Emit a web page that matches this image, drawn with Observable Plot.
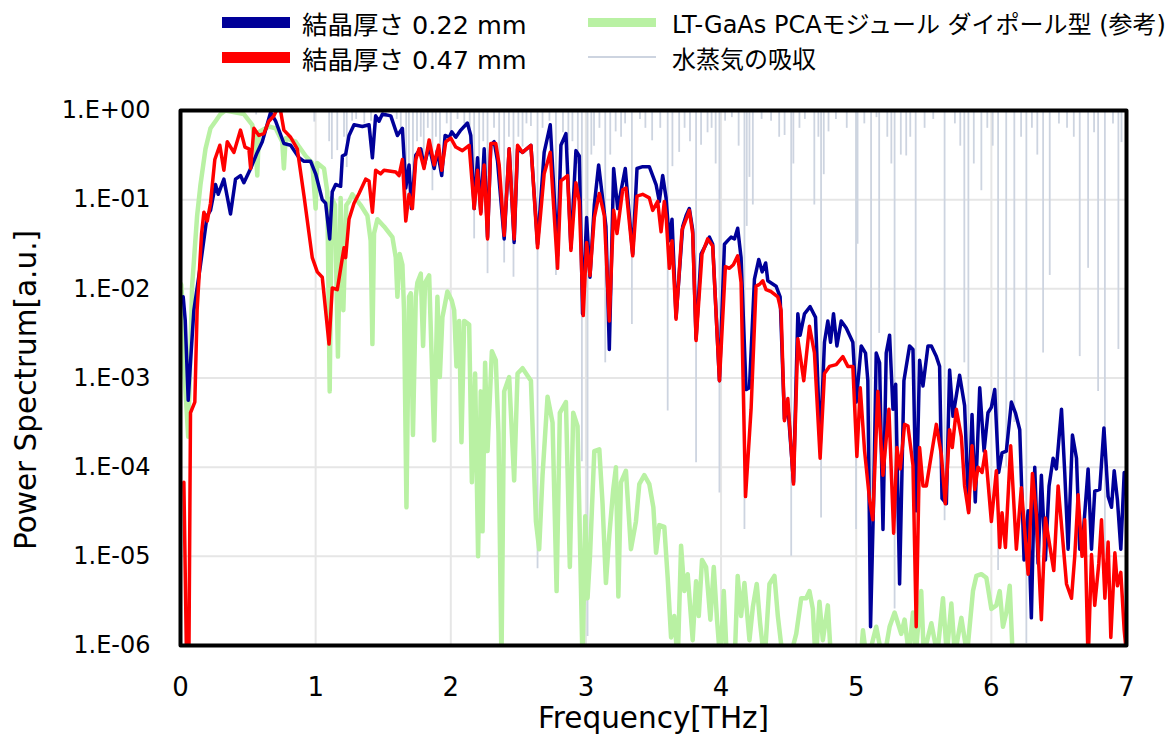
<!DOCTYPE html>
<html>
<head>
<meta charset="utf-8">
<script src="https://cdn.jsdelivr.net/npm/d3@7"></script>
<script src="https://cdn.jsdelivr.net/npm/@observablehq/plot@0.6"></script>
<style>
  html, body { margin: 0; padding: 0; background: #fff; }
  body { width: 1172px; height: 739px; overflow: hidden; font-family: "DejaVu Sans", "Noto Sans CJK JP", sans-serif; }
  #legend { position: relative; width: 1172px; height: 80px; }
  .item { position: absolute; height: 36px; display: flex; align-items: center; color: #000; white-space: nowrap; }
  .sw { display: inline-block; width: 68px; }
</style>
</head>
<body>
<div id="legend"></div>
<div id="chart"></div>
<script>
// ---- axis ticks ----
const xTicks = [0, 1, 2, 3, 4, 5, 6, 7];
const xTickLabels = ["0", "1", "2", "3", "4", "5", "6", "7"];
const yTicks = [1, 1e-1, 1e-2, 1e-3, 1e-4, 1e-5, 1e-6];
const yTickLabels = ["1.E+00", "1.E-01", "1.E-02", "1.E-03", "1.E-04", "1.E-05", "1.E-06"];

// ---- series names ----
const seriesNames = ["結晶厚さ 0.22 mm", "結晶厚さ 0.47 mm", "LT-GaAs PCAモジュール ダイポール型 (参考)", "水蒸気の吸収"];

// ---- crystal thickness 0.22 mm : [THz, log10(power)] ----
const crystal022 = [
[0.02,-2.09],[0.035,-2.35],[0.057,-3.25],[0.075,-2.8],[0.099,-2.24],[0.148,-1.73],[0.197,-1.18],[0.222,-1.12],[0.259,-0.83],[0.279,-0.94],
[0.321,-0.77],[0.37,-1.16],[0.407,-0.77],[0.444,-0.73],[0.469,-0.81],[0.519,-0.65],[0.568,-0.47],[0.605,-0.35],[0.667,-0.02],[0.704,-0.12],
[0.765,-0.37],[0.815,-0.39],[0.877,-0.53],[0.914,-0.57],[0.963,-0.57],[1.0,-0.71],[1.049,-1.0],[1.074,-1.04],[1.104,-1.44],[1.123,-0.91],
[1.148,-0.83],[1.185,-0.85],[1.198,-0.51],[1.222,-0.49],[1.247,-0.28],[1.284,-0.16],[1.346,-0.18],[1.395,-0.16],[1.42,-0.53],[1.444,-0.06],
[1.469,-0.12],[1.494,-0.04],[1.556,-0.06],[1.605,-0.28],[1.642,-0.2],[1.667,-0.87],[1.691,-0.61],[1.709,-1.1],[1.741,-0.5],[1.778,-0.43],
[1.802,-0.62],[1.84,-0.4],[1.877,-0.65],[1.901,-0.45],[1.933,-0.73],[1.958,-0.28],[1.988,-0.3],[2.007,-0.24],[2.037,-0.3],[2.074,-0.22],
[2.123,-0.14],[2.148,-0.28],[2.173,-1.1],[2.198,-0.53],[2.222,-1.14],[2.247,-0.43],[2.272,-1.42],[2.296,-0.39],[2.321,-0.35],[2.346,-0.57],
[2.395,-1.44],[2.432,-0.43],[2.469,-1.48],[2.494,-0.43],[2.531,-0.47],[2.593,-0.39],[2.642,-1.5],[2.691,-0.47],[2.736,-0.16],[2.79,-1.63],
[2.815,-0.39],[2.852,-0.26],[2.889,-1.54],[2.926,-0.45],[2.951,-0.51],[2.975,-2.28],[3.005,-1.2],[3.03,-1.87],[3.062,-1.06],[3.094,-0.61],
[3.123,-0.98],[3.148,-1.3],[3.173,-2.68],[3.205,-0.65],[3.235,-1.1],[3.291,-0.65],[3.346,-1.61],[3.378,-0.65],[3.42,-0.63],[3.469,-0.63],
[3.519,-0.83],[3.543,-1.02],[3.568,-0.73],[3.593,-0.98],[3.617,-1.46],[3.637,-1.22],[3.667,-2.32],[3.716,-1.3],[3.741,-1.18],[3.765,-1.1],
[3.79,-1.34],[3.815,-2.56],[3.852,-1.61],[3.889,-1.5],[3.914,-1.42],[3.938,-1.5],[3.988,-3.03],[4.025,-1.5],[4.049,-1.46],[4.074,-1.42],
[4.099,-1.44],[4.123,-1.32],[4.148,-1.65],[4.185,-3.13],[4.21,-3.11],[4.247,-1.89],[4.279,-1.67],[4.304,-1.81],[4.33,-1.71],[4.346,-1.91],
[4.407,-1.97],[4.437,-2.09],[4.469,-3.46],[4.494,-3.31],[4.536,-4.17],[4.568,-2.28],[4.585,-2.52],[4.617,-2.28],[4.659,-2.2],[4.699,-2.32],
[4.733,-3.78],[4.765,-2.6],[4.79,-2.36],[4.81,-2.6],[4.832,-2.28],[4.857,-2.64],[4.889,-2.36],[4.926,-2.44],[4.975,-2.6],[5.0,-3.27],
[5.037,-2.64],[5.069,-2.72],[5.086,-3.03],[5.106,-5.79],[5.128,-4.41],[5.148,-2.72],[5.173,-2.83],[5.198,-4.7],[5.222,-2.72],[5.247,-2.52],
[5.272,-3.35],[5.292,-3.07],[5.321,-5.31],[5.353,-3.03],[5.395,-2.64],[5.42,-2.68],[5.444,-4.49],[5.469,-2.8],[5.494,-3.09],[5.531,-2.64],
[5.556,-2.64],[5.593,-2.76],[5.617,-2.87],[5.635,-4.35],[5.667,-4.41],[5.691,-2.91],[5.716,-3.43],[5.765,-2.97],[5.802,-3.31],[5.832,-4.49],
[5.857,-3.41],[5.881,-4.39],[5.914,-3.11],[5.946,-3.82],[5.975,-3.39],[6.0,-3.33],[6.025,-3.13],[6.054,-4.06],[6.079,-3.84],[6.111,-3.82],
[6.148,-3.27],[6.178,-3.39],[6.21,-3.58],[6.242,-5.04],[6.272,-4.49],[6.296,-5.69],[6.321,-4.0],[6.346,-5.08],[6.37,-4.09],[6.4,-5.04],
[6.427,-4.21],[6.457,-3.9],[6.481,-4.02],[6.519,-3.35],[6.543,-4.06],[6.568,-4.92],[6.6,-3.64],[6.63,-3.9],[6.654,-4.92],[6.679,-4.76],
[6.716,-4.02],[6.741,-4.92],[6.765,-4.27],[6.802,-4.25],[6.833,-3.56],[6.864,-4.33],[6.889,-4.45],[6.909,-4.04],[6.933,-4.37],[6.958,-4.92],
[6.983,-4.06],[7.0,-4.06]
];

// ---- crystal thickness 0.47 mm : [THz, log10(power)] ----
const crystal047 = [
[0.025,-4.17],[0.045,-6.2],[0.062,-6.2],[0.074,-3.39],[0.106,-3.27],[0.123,-2.24],[0.156,-1.38],[0.173,-1.14],[0.198,-1.24],[0.222,-1.04],
[0.254,-0.55],[0.291,-0.39],[0.321,-0.67],[0.346,-0.35],[0.395,-0.47],[0.444,-0.22],[0.477,-0.41],[0.506,-0.43],[0.519,-0.65],[0.543,-0.2],
[0.58,-0.28],[0.617,-0.26],[0.654,-0.12],[0.691,-0.06],[0.716,0.02],[0.74,0.0],[0.765,-0.22],[0.815,-0.3],[0.864,-0.43],[0.914,-0.96],
[0.975,-1.65],[1.012,-1.81],[1.049,-1.87],[1.099,-2.62],[1.123,-1.99],[1.16,-2.01],[1.198,-1.65],[1.21,-1.54],[1.222,-1.65],[1.247,-1.22],
[1.284,-1.04],[1.321,-0.93],[1.37,-0.77],[1.395,-0.79],[1.42,-1.14],[1.444,-0.67],[1.481,-0.71],[1.506,-0.67],[1.593,-0.69],[1.617,-0.73],
[1.642,-0.55],[1.667,-1.24],[1.691,-0.94],[1.716,-1.1],[1.741,-0.55],[1.765,-0.43],[1.802,-0.65],[1.84,-0.33],[1.877,-0.61],[1.91,-0.39],
[1.933,-0.67],[1.963,-0.35],[2.0,-0.31],[2.037,-0.41],[2.086,-0.45],[2.136,-0.39],[2.173,-1.1],[2.198,-0.67],[2.222,-1.16],[2.247,-0.61],
[2.272,-1.44],[2.296,-0.37],[2.333,-0.37],[2.358,-0.61],[2.395,-1.4],[2.432,-0.43],[2.469,-1.44],[2.494,-0.39],[2.531,-0.47],[2.593,-0.39],
[2.642,-1.54],[2.691,-0.71],[2.736,-0.47],[2.79,-1.77],[2.815,-0.79],[2.864,-0.73],[2.889,-1.57],[2.926,-0.81],[2.951,-1.02],[2.98,-2.3],
[3.005,-1.48],[3.03,-1.85],[3.062,-1.2],[3.099,-0.93],[3.136,-1.18],[3.173,-2.36],[3.205,-1.12],[3.23,-1.38],[3.272,-0.89],[3.296,-0.87],
[3.346,-1.63],[3.378,-0.96],[3.42,-0.94],[3.469,-0.98],[3.494,-1.12],[3.531,-1.02],[3.556,-1.36],[3.58,-1.02],[3.593,-1.18],[3.617,-1.77],
[3.637,-1.46],[3.667,-2.34],[3.711,-1.34],[3.741,-1.22],[3.765,-1.12],[3.79,-1.38],[3.815,-2.58],[3.859,-1.61],[3.901,-1.44],[3.938,-1.52],
[3.988,-3.03],[4.032,-1.75],[4.062,-1.77],[4.091,-1.73],[4.123,-1.63],[4.148,-1.93],[4.181,-4.33],[4.222,-3.35],[4.259,-1.97],[4.284,-1.95],
[4.309,-1.91],[4.333,-2.01],[4.37,-2.03],[4.42,-2.09],[4.444,-2.24],[4.469,-3.48],[4.494,-3.23],[4.536,-4.19],[4.568,-2.56],[4.612,-3.03],
[4.654,-2.42],[4.691,-2.72],[4.733,-3.9],[4.765,-2.95],[4.802,-2.87],[4.852,-2.85],[4.901,-2.76],[4.938,-2.87],[4.975,-2.87],[5.005,-3.88],
[5.03,-3.11],[5.062,-3.82],[5.099,-4.37],[5.123,-4.59],[5.16,-3.15],[5.198,-4.09],[5.242,-3.35],[5.277,-4.74],[5.301,-3.78],[5.326,-4.02],
[5.358,-3.52],[5.383,-3.54],[5.42,-3.98],[5.444,-5.79],[5.469,-3.78],[5.494,-4.21],[5.519,-4.21],[5.556,-3.86],[5.593,-3.52],[5.63,-3.86],
[5.659,-4.41],[5.691,-3.58],[5.711,-3.78],[5.741,-3.35],[5.778,-3.66],[5.802,-4.21],[5.832,-4.51],[5.857,-3.76],[5.877,-4.25],[5.901,-4.0],
[5.931,-4.06],[5.956,-3.82],[6.0,-4.61],[6.037,-4.04],[6.062,-4.9],[6.079,-4.51],[6.104,-4.9],[6.143,-3.76],[6.185,-4.92],[6.222,-4.23],
[6.272,-5.2],[6.304,-4.07],[6.333,-4.53],[6.37,-5.71],[6.4,-4.57],[6.432,-4.88],[6.462,-5.16],[6.494,-4.21],[6.523,-4.72],[6.556,-5.31],
[6.593,-5.47],[6.617,-5.0],[6.642,-4.31],[6.671,-5.0],[6.691,-4.59],[6.716,-6.2],[6.741,-4.98],[6.765,-5.55],[6.795,-5.08],[6.815,-4.59],
[6.84,-5.47],[6.864,-4.84],[6.884,-5.91],[6.914,-4.96],[6.933,-5.33],[6.958,-5.18],[6.983,-5.83],[7.0,-6.1]
];

// ---- LT-GaAs PCA dipole (reference) : [THz, log10(power)] ----
const pcaDipole = [
[0.005,-1.95],[0.012,-2.1],[0.02,-2.7],[0.057,-3.66],[0.086,-1.97],[0.123,-1.18],[0.148,-0.83],[0.185,-0.43],[0.222,-0.2],[0.259,-0.12],
[0.296,-0.04],[0.333,0.0],[0.469,-0.04],[0.531,-0.16],[0.556,-0.39],[0.568,-0.73],[0.58,-0.24],[0.654,-0.18],[0.704,-0.2],[0.753,-0.35],
[0.765,-0.65],[0.778,-0.31],[0.852,-0.35],[0.926,-0.51],[0.975,-0.59],[1.0,-1.1],[1.012,-0.59],[1.062,-0.65],[1.086,-0.91],[1.104,-3.15],
[1.119,-0.98],[1.143,-1.06],[1.165,-2.76],[1.185,-0.98],[1.205,-2.24],[1.227,-1.06],[1.247,-1.02],[1.272,-0.94],[1.333,-1.06],[1.383,-1.18],
[1.407,-1.46],[1.42,-2.62],[1.432,-1.38],[1.457,-1.22],[1.506,-1.3],[1.568,-1.42],[1.593,-1.65],[1.605,-2.09],[1.622,-1.61],[1.642,-1.73],
[1.654,-2.24],[1.672,-4.45],[1.691,-2.09],[1.704,-2.05],[1.72,-3.64],[1.741,-2.09],[1.753,-1.93],[1.778,-1.83],[1.795,-2.64],[1.81,-1.93],
[1.84,-1.85],[1.877,-3.7],[1.901,-2.09],[1.919,-2.99],[1.938,-2.32],[1.975,-2.03],[2.007,-2.13],[2.025,-2.24],[2.042,-2.87],[2.062,-2.36],
[2.079,-3.72],[2.099,-2.36],[2.136,-2.4],[2.156,-4.17],[2.18,-2.95],[2.202,-5.0],[2.222,-3.15],[2.235,-4.72],[2.254,-2.83],[2.272,-3.82],
[2.304,-2.7],[2.333,-2.8],[2.353,-3.62],[2.375,-6.2],[2.395,-3.15],[2.432,-2.99],[2.469,-4.15],[2.494,-2.95],[2.531,-2.89],[2.593,-3.03],
[2.63,-4.61],[2.654,-4.92],[2.679,-4.09],[2.716,-3.21],[2.753,-3.5],[2.783,-5.39],[2.807,-3.39],[2.852,-3.27],[2.881,-5.12],[2.906,-3.39],
[2.938,-3.54],[2.975,-6.2],[2.995,-4.55],[3.012,-5.47],[3.03,-5.0],[3.062,-3.82],[3.099,-3.8],[3.123,-4.41],[3.148,-5.3],[3.173,-4.76],
[3.202,-4.25],[3.222,-4.0],[3.24,-5.45],[3.259,-4.17],[3.296,-4.04],[3.333,-4.92],[3.37,-4.61],[3.395,-4.19],[3.432,-4.09],[3.469,-4.19],
[3.499,-4.45],[3.519,-4.96],[3.543,-4.65],[3.58,-4.67],[3.605,-5.24],[3.63,-5.91],[3.654,-5.67],[3.679,-6.2],[3.704,-4.88],[3.728,-5.39],
[3.753,-5.2],[3.79,-5.94],[3.815,-5.28],[3.835,-5.67],[3.859,-5.04],[3.889,-5.12],[3.921,-5.71],[3.946,-5.12],[3.97,-5.71],[3.995,-6.2],
[4.02,-5.39],[4.044,-6.2],[4.1,-6.2],[4.123,-5.22],[4.148,-5.67],[4.173,-5.3],[4.21,-5.94],[4.235,-5.57],[4.264,-5.31],[4.289,-5.75],
[4.321,-6.2],[4.358,-5.31],[4.395,-5.22],[4.42,-5.67],[4.444,-5.98],[4.5,-6.2],[4.556,-5.87],[4.593,-5.47],[4.63,-5.47],[4.654,-5.39],
[4.679,-5.59],[4.7,-6.2],[4.728,-5.51],[4.753,-5.94],[4.79,-5.55],[4.815,-6.2],[5.03,-6.2],[5.05,-5.83],[5.08,-6.2],[5.148,-5.79],
[5.2,-6.2],[5.247,-5.79],[5.284,-5.63],[5.309,-5.75],[5.333,-5.87],[5.358,-5.71],[5.39,-6.1],[5.42,-5.63],[5.44,-6.1],[5.481,-5.39],
[5.5,-6.1],[5.556,-5.75],[5.6,-6.1],[5.642,-5.47],[5.67,-6.1],[5.704,-5.53],[5.73,-6.1],[5.778,-5.69],[5.82,-6.1],[5.864,-5.39],
[5.889,-5.22],[5.926,-5.2],[5.963,-5.24],[6.0,-5.59],[6.037,-5.55],[6.062,-5.39],[6.086,-5.79],[6.111,-5.63],[6.136,-5.33],[6.16,-6.2]
];

// ---- water vapour absorption lines : [THz, log10(transmission at line centre)] ----
const waterLines = [
[0.56,-0.05],[0.75,-0.08],[0.99,-0.13],[1.10,-0.35],[1.12,-0.55],[1.16,-0.45],[1.21,-0.3],[1.23,-0.64],[1.27,-0.12],[1.3,-0.1],
[1.36,-0.15],[1.41,-0.12],[1.52,-0.08],[1.6,-0.1],[1.63,-0.25],[1.67,-1.12],[1.69,-0.75],[1.72,-0.95],[1.75,-0.35],[1.778,-0.3],
[1.80,-0.6],[1.83,-0.2],[1.864,-0.9],[1.89,-0.3],[1.92,-0.4],[1.97,-0.15],[2.0,-0.28],[2.05,-0.1],[2.10,-0.15],[2.14,-0.3],
[2.173,-1.44],[2.21,-0.79],[2.24,-0.35],[2.272,-1.83],[2.32,-0.2],[2.358,-0.55],[2.395,-1.71],[2.43,-0.3],[2.464,-1.87],[2.50,-0.3],
[2.531,-0.41],[2.56,-0.15],[2.593,-0.18],[2.642,-5.14],[2.679,-0.2],[2.73,-0.12],[2.778,-1.85],[2.83,-0.25],[2.87,-0.45],[2.90,-0.35],
[2.94,-0.6],[2.97,-3.94],[3.012,-5.9],[3.04,-0.5],[3.06,-0.4],[3.10,-0.2],[3.143,-2.83],[3.18,-0.5],[3.22,-0.24],[3.26,-0.3],
[3.29,-0.15],[3.34,-2.4],[3.40,-0.1],[3.44,-0.2],[3.49,-0.34],[3.55,-0.2],[3.605,-3.37],[3.64,-0.63],[3.69,-0.47],[3.73,-0.2],
[3.77,-0.35],[3.815,-3.95],[3.852,-0.39],[3.90,-0.25],[3.93,-0.2],[3.96,-0.6],[3.988,-4.29],[4.03,-0.12],[4.08,-0.08],[4.13,-0.4],
[4.173,-4.7],[4.19,-1.3],[4.21,-0.75],[4.235,-1.06],[4.30,-0.1],[4.37,-0.12],[4.43,-0.3],[4.47,-0.28],[4.519,-5.0],[4.535,-0.6],
[4.58,-0.2],[4.62,-0.1],[4.69,-1.06],[4.72,-0.3],[4.74,-4.57],[4.76,-0.72],[4.795,-0.24],[4.85,-0.1],[4.93,-0.2],[4.999,-4.7],
[5.01,-1.5],[5.06,-0.15],[5.11,-5.6],[5.15,-0.08],[5.17,-2.5],[5.23,-0.3],[5.26,-0.6],[5.284,-5.59],[5.33,-0.5],[5.37,-0.51],
[5.40,-0.3],[5.44,-5.0],[5.506,-0.2],[5.57,-0.1],[5.654,-4.6],[5.73,-0.15],[5.77,-0.4],[5.80,-2.83],[5.83,-4.5],[5.87,-0.6],
[5.926,-0.9],[5.97,-0.2],[6.01,-0.4],[6.05,-5.16],[6.11,-4.0],[6.17,-3.5],[6.22,-0.3],[6.259,-5.98],[6.30,-0.2],[6.34,-0.5],
[6.383,-2.72],[6.432,-1.85],[6.50,-0.15],[6.56,-0.2],[6.61,-0.3],[6.654,-2.76],[6.716,-1.77],[6.76,-0.25],[6.79,-3.15],[6.84,-5.0],
[6.90,-0.15],[6.94,-2.68],[6.963,-0.36]
];

// ---- styles ----
const colors = ["#000099", "#ff0000", "#b9f1a3", "#cdd4e0"];
const FONT = '"DejaVu Sans", "Noto Sans CJK JP", sans-serif';

// ---- legend (HTML above the SVG) ----
const legendLayout = [
  {left: 222, top: 4, sw: 11, gap: 12, size: 25.5},
  {left: 222, top: 39, sw: 11, gap: 12, size: 25.5},
  {left: 588, top: 4, sw: 9, gap: 16, size: 24},
  {left: 588, top: 39, sw: 2, gap: 16, size: 24}
];
const legend = document.getElementById("legend");
seriesNames.forEach((name, i) => {
  const L = legendLayout[i];
  const item = document.createElement("div");
  item.className = "item";
  item.style.left = L.left + "px";
  item.style.top = L.top + "px";
  item.style.fontSize = L.size + "px";
  const sw = document.createElement("span");
  sw.className = "sw";
  sw.style.height = L.sw + "px";
  sw.style.background = colors[i];
  sw.style.marginRight = L.gap + "px";
  const tx = document.createElement("span");
  tx.textContent = name;
  item.appendChild(sw);
  item.appendChild(tx);
  legend.appendChild(item);
});

// ---- build tables ----
const toRows = arr => arr.map(([f, lg]) => ({f, v: Math.pow(10, lg)}));
const rows022 = toRows(crystal022);
const rows047 = toRows(crystal047);
const rowsPCA = toRows(pcaDipole);
const rowsWater = toRows(waterLines);

const chart = Plot.plot({
  width: 1172,
  height: 659,
  marginTop: 30,
  marginBottom: 94,
  marginLeft: 180,
  marginRight: 46,
  style: {fontFamily: FONT, fontSize: "24px", color: "#000", background: "#fff", overflow: "visible"},
  x: {domain: [0, 7]},
  y: {type: "log", domain: [1e-6, 1]},
  marks: [
    Plot.gridX(xTicks, {stroke: "#e6e6e6", strokeOpacity: 1, strokeWidth: 2}),
    Plot.gridY(yTicks, {stroke: "#e6e6e6", strokeOpacity: 1, strokeWidth: 2}),
    Plot.ruleX(rowsWater, {x: "f", y1: "v", y2: d => 1, stroke: colors[3], strokeWidth: 1.8, clip: true}),
    Plot.line(rowsPCA, {x: "f", y: "v", stroke: colors[2], strokeWidth: 4.5, strokeLinejoin: "round", clip: true}),
    Plot.line(rows022, {x: "f", y: "v", stroke: colors[0], strokeWidth: 3.5, strokeLinejoin: "round", clip: true}),
    Plot.line(rows047, {x: "f", y: "v", stroke: colors[1], strokeWidth: 3.5, strokeLinejoin: "round", clip: true}),
    Plot.axisX(xTicks, {tickSize: 0, tickPadding: 32, fontSize: 26, tickFormat: d => xTickLabels[xTicks.indexOf(d)], label: "Frequency[THz]", labelAnchor: "center", labelOffset: 82, labelArrow: false}),
    Plot.axisY(yTicks, {tickSize: 0, tickPadding: 30, fontSize: 24, tickFormat: d => yTickLabels[yTicks.indexOf(d)], label: "Power Spectrum[a.u.]", labelAnchor: "center", labelOffset: 165, labelArrow: false}),
    Plot.frame({stroke: "#000", strokeWidth: 4, strokeLinejoin: "round"})
  ]
});
document.getElementById("chart").appendChild(chart);
// axis title styling
chart.querySelectorAll('g[aria-label="x-axis label"] text, g[aria-label="y-axis label"] text').forEach(t => t.setAttribute("font-size", "29.5"));
chart.querySelectorAll('g[aria-label="y-axis label"] text').forEach(t => {
  t.setAttribute("transform", (t.getAttribute("transform") || "") + " translate(-12,0)");
});
</script>
</body>
</html>
